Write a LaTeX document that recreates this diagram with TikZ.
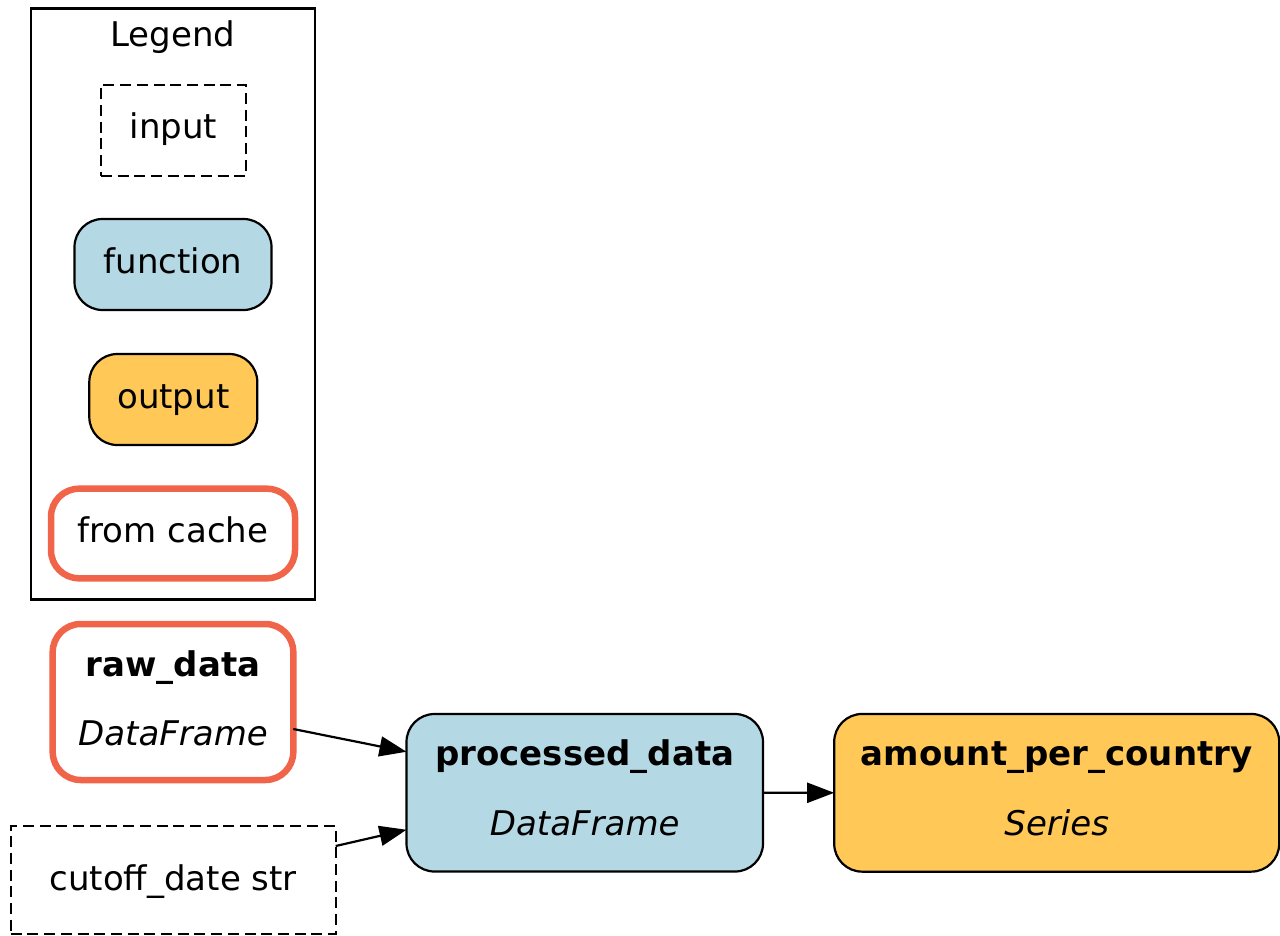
\documentclass[tikz,border=0pt]{standalone}
\usepackage{fontspec}
\setmainfont{DejaVu Sans}
\usetikzlibrary{arrows.meta,calc}
\definecolor{fnblue}{HTML}{B4D8E4}
\definecolor{outyel}{HTML}{FFC857}
\definecolor{cachered}{HTML}{F06449}
\tikzset{
  box/.style={draw=black, line width=2.2pt, inner sep=0pt, outer sep=0pt},
  inputbox/.style={box, dash pattern=on 11pt off 5.7pt},
  fnbox/.style={box, fill=fnblue, rounded corners=28pt},
  outbox/.style={box, fill=outyel, rounded corners=28pt},
  cachebox/.style={box, draw=cachered, line width=6.5pt, rounded corners=28pt},
  txt/.style={anchor=base, inner sep=0pt, outer sep=0pt},
  edge/.style={line width=2.2pt, -{Triangle[length=27pt,width=20pt]}},
}
\begin{document}
\begin{tikzpicture}[x=1pt,y=-1pt, font=\fontsize{34}{40}\selectfont]
\useasboundingbox (0,0) rectangle (1280,935);
% Legend
\node[box, minimum width=284pt, minimum height=591pt] (legend) at (173,304) {};
\node[txt] (legendt) at (173,46) {Legend};
\node[inputbox, minimum width=145pt, minimum height=91pt] (lin) at (173.3,130.5) {};
\node[txt] (lint) at (173.3,138) {input};
\node[fnbox, minimum width=197pt, minimum height=91pt] (lfn) at (173,264.5) {};
\node[txt] (lfnt) at (173,273) {function};
\node[outbox, minimum width=168pt, minimum height=91pt] (lout) at (173.3,399.5) {};
\node[txt] (loutt) at (173.3,408) {output};
\node[cachebox, minimum width=244pt, minimum height=89.6pt] (lcache) at (173,533.5) {};
\node[txt] (lcachet) at (173,542) {from cache};
% Graph nodes
\node[cachebox, minimum width=240.6pt, minimum height=156pt] (raw) at (173,702) {};
\node[txt] (rawt) at (173,676) {\textbf{raw\_data}};
\node[txt] (rawty) at (173,745) {\textit{DataFrame}};
\node[inputbox, minimum width=325pt, minimum height=108pt] (cut) at (173.2,880) {};
\node[txt] (cutt) at (173.2,890) {cutoff\_date str};
\node[fnbox, minimum width=356.5pt, minimum height=157.5pt] (proc) at (584.75,792.75) {};
\node[txt] (proct) at (584.75,765) {\textbf{processed\_data}};
\node[txt] (procty) at (584.75,835) {\textit{DataFrame}};
\node[outbox, minimum width=445pt, minimum height=157.7pt] (amt) at (1056.7,792.8) {};
\node[txt] (amtt) at (1056.7,765) {\textbf{amount\_per\_country}};
\node[txt] (amtty) at (1056.7,835) {\textit{Series}};
% Edges
\draw[edge] ($(raw.east)+(0,27)$) -- ($(proc.west)+(0,-41)$);
\draw[edge] ($(cut.east)+(0,-34)$) -- ($(proc.west)+(0,37)$);
\draw[edge] (proc.east) -- (amt.west);
\end{tikzpicture}
\end{document}
